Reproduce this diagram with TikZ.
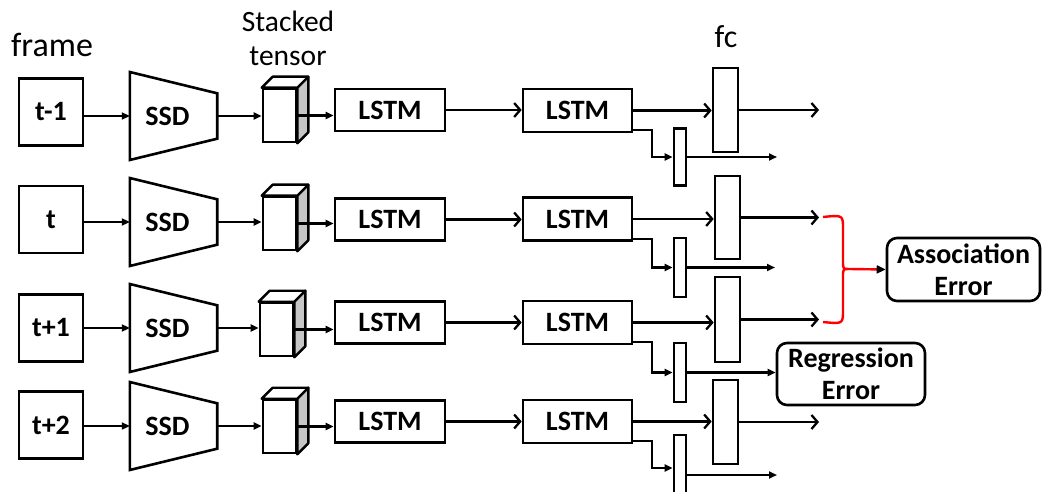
\documentclass[tikz,border=0pt]{standalone}
\usepackage{fontspec}
\setmainfont{Carlito}
\usetikzlibrary{arrows.meta,calc}
\begin{document}
\begin{tikzpicture}[x=1pt,y=-1pt,
  boxln/.style={draw, line width=2.6pt, inner sep=0pt},
  bold/.style={font=\bfseries\fontsize{28}{32}\selectfont},
  frm/.style={boxln, bold, minimum width=64pt, minimum height=67pt},
  ssdn/.style={inner sep=0pt, bold, minimum width=87pt, minimum height=45pt},
  ssdshape/.style={line width=2.6pt, line join=miter},
  cubef/.style={boxln, minimum width=33pt, minimum height=53pt},
  cubeside/.style={fill=gray!45, draw, line width=2.4pt, line join=round},
  cubetop/.style={fill=white, draw, line width=2.4pt, line join=round},
  lstm/.style={boxln, bold, minimum height=42pt},
  fcbox/.style={boxln, minimum width=25pt},
  smbox/.style={boxln, minimum width=12pt},
  errbox/.style={boxln, bold, rounded corners=10pt, align=center},
  arrF/.style={line width=2.3pt, -{Triangle[length=8pt,width=7pt]}},
  arrO/.style={line width=2.3pt, -{Straight Barb[length=6pt,width=14pt,line width=2.3pt]}},
  lbl/.style={inner sep=0pt, align=center}
]
\useasboundingbox (0,0) rectangle (1042,492);
\fill[white] (0,0) rectangle (1042,492);

% top labels
\node[lbl, font=\fontsize{34}{36}\selectfont] (lframe) at (52,45) {frame};
\node[lbl, font=\fontsize{29.5}{34}\selectfont] (lstack) at (288,38) {Stacked\\tensor};
\node[lbl, font=\fontsize{32}{34}\selectfont] (lfc) at (726,37) {fc};

\foreach \i/\lab/\yf/\ys/\xc/\yc/\yl/\ym/\xfc/\yfc/\hfc/\ysm/\hsm in {
  1/t-1/112/116/279.5/115.5/110/110.5/725.5/110/84/157/57,
  2/t/219.5/222/279.5/223.5/219.5/219/727.5/217.5/83/267.5/59,
  3/t+1/328/328/276.5/329.5/322.5/322.5/727.5/319.5/85/372.5/59,
  4/t+2/425/426/279.5/426.5/421.5/421.5/725.5/422/84/468/66} {
  % frame box
  \node[frm] (f\i) at (51,\yf) {\lab};
  % SSD trapezoid
  \node[ssdn] (s\i) at (173.5,\ys) {\hspace*{-12pt}SSD};
  \draw[ssdshape] ($(s\i.west)+(0,-44)$) -- (s\i.north east) -- (s\i.south east) -- ($(s\i.west)+(0,44)$) -- cycle;
  % cube
  \node[cubef] (c\i) at (\xc,\yc) {};
  \draw[cubeside] (c\i.north east) -- ($(c\i.north east)+(11,-11)$) -- ($(c\i.south east)+(11,-11)$) -- (c\i.south east) -- cycle;
  \draw[cubetop] (c\i.north west) -- ($(c\i.north west)+(11,-11)$) -- ($(c\i.north east)+(11,-11)$) -- (c\i.north east) -- cycle;
  % LSTMs
  \node[lstm, minimum width=110pt] (l\i) at (390,\yl) {LSTM};
  \node[lstm, minimum width=109pt, minimum height=43pt] (m\i) at (577.5,\ym) {LSTM};
  % fc boxes
  \node[fcbox, minimum height=\hfc] (fc\i) at (\xfc,\yfc) {};
  \node[smbox, minimum height=\hsm] (sm\i) at (680,\ysm) {};
  \coordinate (o\i) at (819,\yfc);
  % connectors
  \draw[arrF] (f\i.east |- s\i.west) -- (s\i.west);
  \draw[arrF] (s\i.east) -- (s\i.east -| c\i.west);
  \draw[arrF] (c\i.east) -- (c\i.east -| l\i.west);
  \draw[arrO] (l\i.east) -- (l\i.east -| m\i.west);
  \draw[arrO] (m\i.east) -- (m\i.east -| fc\i.west);
  \draw[arrO] (fc\i.east) -- (o\i);
  \draw[arrF] ([yshift=3pt]m\i.south east) -- ++(19,0) |- (sm\i.west);
}

% error boxes
\node[errbox, minimum width=153pt, minimum height=63pt] (assoc) at (963.5,269.5) {Association\\Error};
\node[errbox, minimum width=148pt, minimum height=62pt] (reg) at (851,374) {Regression\\Error};

% small outputs
\coordinate (p1) at (777,157);
\coordinate (p2) at (775,267.5);
\coordinate (p4) at (777,475);
\draw[arrF] (sm1.east) -- (p1);
\draw[arrF] (sm2.east) -- (p2);
\draw[arrF] (sm3.east) -- (sm3.east -| reg.west);
\draw[arrF] (sm4.east |- p4) -- (p4);

% red brace
\coordinate (btip) at (849,269);
\draw[red, line width=2.4pt, line join=round]
  (823,217) .. controls (843,215) .. (843,229) -- (843,261) .. controls (843,269) .. (btip)
  (823,322) .. controls (843,324) .. (843,310) -- (843,277) .. controls (843,269) .. (btip);
\draw[red, line width=2.4pt, -{Triangle[length=9pt,width=8pt,color=black]}] (btip) -- (assoc.west);
\end{tikzpicture}
\end{document}
